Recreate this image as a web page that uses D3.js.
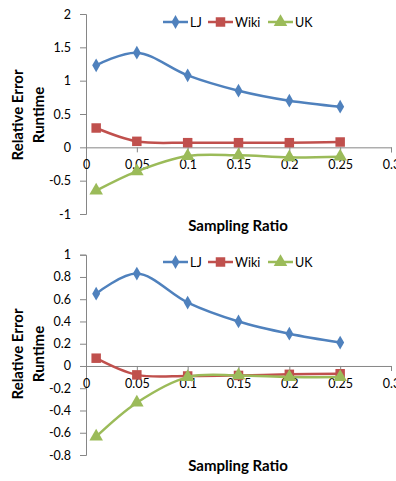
<!DOCTYPE html>
<html lang="en">
<head>
<meta charset="UTF-8" />
<title>Relative Error Runtime</title>
<style>
  body { margin: 0; background: #fff; }
  svg { display: block; font-family: Lato, "Open Sans", sans-serif; }
</style>
<script src="https://cdn.jsdelivr.net/npm/d3@7"></script>
</head>
<body>
<script>
    // data
    let ratios = [0.01, 0.05, 0.1, 0.15, 0.2, 0.25];
    let seriesNames = ["LJ", "Wiki", "UK"];

    let topLJ = [1.23, 1.42, 1.08, 0.85, 0.70, 0.61];
    let topWiki = [0.29, 0.09, 0.07, 0.07, 0.07, 0.08];
    let topUK = [-0.65, -0.36, -0.13, -0.12, -0.15, -0.14];

    let bottomLJ = [0.65, 0.83, 0.57, 0.40, 0.29, 0.21];
    let bottomWiki = [0.07, -0.08, -0.09, -0.085, -0.075, -0.07];
    let bottomUK = [-0.635, -0.33, -0.10, -0.085, -0.10, -0.10];

    let xTicks = [0, 0.05, 0.1, 0.15, 0.2, 0.25, 0.3];
    let yTicksTop = [-1, -0.5, 0, 0.5, 1, 1.5, 2];
    let yTicksBottom = [-0.8, -0.6, -0.4, -0.2, 0, 0.2, 0.4, 0.6, 0.8, 1];

    let w = 396, h = 481;
    let colors = ["#4F81BD", "#C0504D", "#9BBB59"];
    let symbols = [d3.symbolDiamond, d3.symbolSquare, d3.symbolTriangle];
    let symSize = [55, 90, 80];

    let svg = d3.select("body").append("svg")
        .attr("width", w)
        .attr("height", h);

    function drawChart(offY, yDomain, yTop, yBottom, yTicks, values) {
        let g = svg.append("g").attr("transform", `translate(0,${offY})`);

        let x = d3.scaleLinear().domain([0, 0.3]).range([86, 391]);
        let y = d3.scaleLinear().domain(yDomain).range([yBottom, yTop]);

        // y axis
        let ya = g.append("g")
            .attr("transform", "translate(86,0)")
            .call(d3.axisLeft(y).tickValues(yTicks).tickSize(6).tickPadding(9)
                .tickFormat(d => String(+d.toFixed(2))));
        ya.select(".domain").attr("stroke", "#868686");
        ya.selectAll(".tick line").attr("stroke", "#868686");
        ya.selectAll("text").attr("font-size", 12.5).attr("fill", "#000")
            .attr("font-family", "Lato, sans-serif");

        // x axis sits on zero
        let xa = g.append("g")
            .attr("transform", `translate(0,${y(0)})`)
            .call(d3.axisBottom(x).tickValues(xTicks).tickSize(5).tickPadding(8)
                .tickFormat(d => String(+d.toFixed(2))));
        xa.select(".domain").attr("stroke", "#868686");
        xa.selectAll(".tick line").attr("stroke", "#868686");
        xa.selectAll("text").attr("font-size", 12.5).attr("fill", "#000")
            .attr("font-family", "Lato, sans-serif");

        let line = d3.line()
            .x((d, i) => x(ratios[i]))
            .y(d => y(d))
            .curve(d3.curveCatmullRom.alpha(0.5));

        values.forEach((vals, s) => {
            g.append("path")
                .attr("d", line(vals))
                .attr("fill", "none")
                .attr("stroke", colors[s])
                .attr("stroke-width", 2.5);
            g.selectAll(".m" + s)
                .data(vals)
                .enter()
                .append("path")
                .attr("class", "m" + s)
                .attr("transform", (d, i) => `translate(${x(ratios[i])},${y(d)})`)
                .attr("d", d3.symbol().type(symbols[s]).size(symSize[s]))
                .attr("fill", colors[s]);
        });

        // legend
        let legX = [163, 208, 268];
        seriesNames.forEach((name, s) => {
            let lg = g.append("g").attr("transform", `translate(${legX[s]},22)`);
            lg.append("line").attr("x1", 0).attr("x2", 25)
                .attr("stroke", colors[s]).attr("stroke-width", 2.5);
            lg.append("path").attr("transform", "translate(12.5,0)")
                .attr("d", d3.symbol().type(symbols[s]).size(symSize[s]))
                .attr("fill", colors[s]);
            lg.append("text").attr("x", 27).attr("y", 4.5)
                .attr("font-size", 12.5).text(name);
        });

        // axis titles
        g.append("text")
            .attr("x", 238).attr("y", 231)
            .attr("text-anchor", "middle")
            .attr("font-size", 15).attr("font-weight", "bold")
            .text("Sampling Ratio");

        let mid = offY === 0 ? 115 : 114;
        g.append("text")
            .attr("transform", `translate(23,${mid}) rotate(-90)`)
            .attr("text-anchor", "middle")
            .attr("font-size", 15).attr("font-weight", "bold")
            .text("Relative Error");
        g.append("text")
            .attr("transform", `translate(44,${mid}) rotate(-90)`)
            .attr("text-anchor", "middle")
            .attr("font-size", 15).attr("font-weight", "bold")
            .text("Runtime");
    }

    drawChart(0, [-1, 2], 14, 214, yTicksTop, [topLJ, topWiki, topUK]);
    drawChart(240, [-0.8, 1], 14.7, 215, yTicksBottom, [bottomLJ, bottomWiki, bottomUK]);
</script>
</body>
</html>
